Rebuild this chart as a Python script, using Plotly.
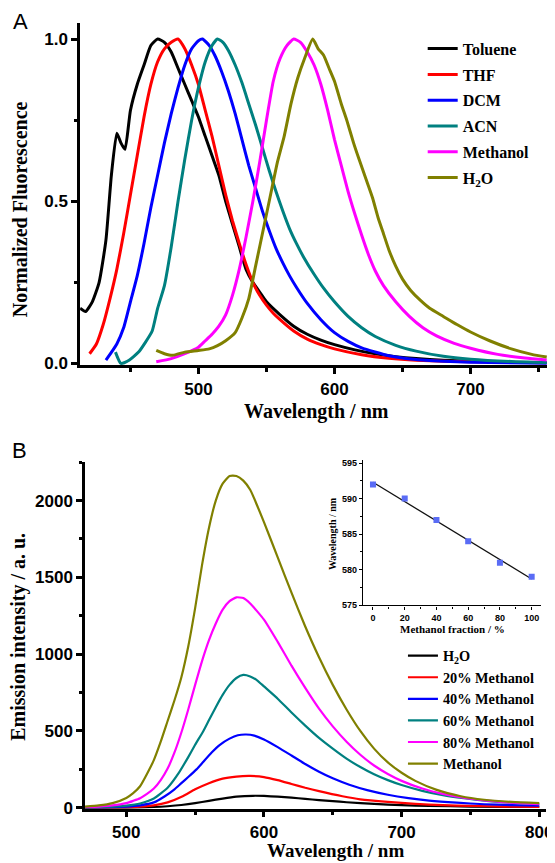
import plotly.graph_objects as go

W, H = 555, 863
def fx(px): return px / W
def fy(py): return 1 - py / H

# ---------------- Panel A data (normalized fluorescence) ----------------
tol_x = [413, 417, 422, 427, 432, 436, 440, 443, 446, 450, 455, 460, 465, 470, 475, 480, 485, 490, 495, 500,
         505, 510, 515, 520, 525, 530, 535, 540, 545, 550, 560, 570, 580, 590, 600, 615, 630, 645, 660, 680, 700]
tol_y = [0.17, 0.16, 0.19, 0.25, 0.38, 0.58, 0.71, 0.68, 0.66, 0.78, 0.86, 0.92, 0.98, 1.0, 0.99, 0.96, 0.91, 0.86, 0.81, 0.76,
         0.70, 0.64, 0.58, 0.50, 0.43, 0.36, 0.29, 0.25, 0.22, 0.19, 0.15, 0.115, 0.09, 0.072, 0.058, 0.042, 0.03, 0.021, 0.015, 0.01, 0.007]

thf_x = [420, 425, 430, 435, 440, 445, 450, 455, 460, 465, 470, 475, 480, 485, 490, 495, 500, 505, 510, 515, 520,
         525, 530, 535, 540, 545, 550, 555, 560, 570, 580, 590, 600, 620, 640, 660, 700, 756]
thf_y = [0.03, 0.06, 0.12, 0.2, 0.29, 0.4, 0.52, 0.64, 0.76, 0.86, 0.93, 0.97, 0.99, 1.0, 0.97, 0.92, 0.86, 0.78, 0.70, 0.61, 0.52,
         0.44, 0.37, 0.305, 0.25, 0.21, 0.18, 0.155, 0.135, 0.1, 0.075, 0.058, 0.045, 0.027, 0.016, 0.01, 0.005, 0.002]

dcm_x = [432, 440, 445, 450, 455, 460, 465, 470, 475, 480, 485, 490, 495, 500, 503, 508, 512, 517, 522, 527, 532,
         537, 542, 547, 552, 557, 562, 567, 572, 580, 590, 600, 610, 620, 640, 660, 680, 700, 756]
dcm_y = [0.01, 0.06, 0.11, 0.19, 0.27, 0.37, 0.48, 0.58, 0.68, 0.77, 0.85, 0.92, 0.97, 0.995, 1.0, 0.98, 0.95, 0.9, 0.84, 0.77, 0.69,
         0.61, 0.54, 0.47, 0.41, 0.355, 0.31, 0.27, 0.235, 0.185, 0.135, 0.095, 0.068, 0.048, 0.024, 0.012, 0.007, 0.004, 0.001]

acn_x = [439, 443, 449, 456, 461, 466, 470, 475, 480, 485, 490, 495, 500, 505, 510, 514, 518, 522, 527, 532, 537,
         542, 547, 552, 557, 562, 567, 572, 577, 585, 592, 600, 610, 620, 630, 645, 660, 680, 700, 730, 756]
acn_y = [0.035, 0.0, 0.01, 0.035, 0.065, 0.1, 0.17, 0.24, 0.36, 0.5, 0.63, 0.75, 0.85, 0.93, 0.98, 1.0, 0.99, 0.965, 0.92, 0.865, 0.8,
         0.735, 0.665, 0.595, 0.53, 0.47, 0.415, 0.37, 0.33, 0.275, 0.232, 0.19, 0.145, 0.11, 0.083, 0.056, 0.038, 0.022, 0.013, 0.006, 0.003]

meoh_x = [469, 480, 490, 500, 505, 510, 515, 520, 525, 530, 535, 540, 545, 550, 555, 560, 565, 570, 575, 580, 585,
          590, 595, 600, 605, 610, 615, 620, 625, 630, 636, 645, 655, 665, 675, 688, 700, 720, 740, 756]
meoh_y = [0.005, 0.015, 0.03, 0.05, 0.07, 0.09, 0.115, 0.15, 0.21, 0.29, 0.39, 0.5, 0.62, 0.75, 0.87, 0.94, 0.98, 1.0, 0.99, 0.96, 0.92,
          0.86, 0.78, 0.69, 0.61, 0.53, 0.46, 0.395, 0.335, 0.285, 0.24, 0.19, 0.145, 0.11, 0.085, 0.062, 0.047, 0.028, 0.017, 0.011]

h2o_x = [469, 475, 481, 490, 500, 508, 514, 520, 527, 532, 537, 542, 549, 554, 558, 563, 568, 573, 578, 584, 588,
         592, 596, 600, 605, 609, 614, 618, 623, 628, 632, 636, 640, 645, 650, 656, 663, 670, 680, 690, 700, 714, 730, 745, 756]
h2o_y = [0.04, 0.03, 0.025, 0.035, 0.04, 0.045, 0.055, 0.07, 0.095, 0.14, 0.2, 0.3, 0.44, 0.54, 0.62, 0.7, 0.8, 0.88, 0.94, 1.0, 0.97,
         0.95, 0.91, 0.87, 0.8, 0.75, 0.68, 0.63, 0.57, 0.51, 0.45, 0.40, 0.35, 0.30, 0.26, 0.225, 0.195, 0.17, 0.145, 0.12, 0.097, 0.07, 0.045, 0.028, 0.02]

# ---------------- Panel B data (emission intensity) ----------------
b_h2o_x = [470, 500, 520, 530, 540, 550, 560, 570, 580, 592, 600, 610, 620, 630, 640, 650, 660, 680, 700, 720, 750, 800]
b_h2o_y = [0, 1, 5, 10, 18, 30, 45, 60, 72, 78, 77, 72, 66, 58, 50, 43, 36, 25, 17, 12, 8, 5]

b_20_x = [470, 490, 500, 510, 520, 530, 541, 550, 560, 570, 580, 590, 600, 610, 620, 630, 640, 657, 670, 690, 710, 730, 750, 775, 800]
b_20_y = [1, 2, 4, 8, 16, 35, 75, 120, 160, 190, 203, 207, 200, 180, 155, 130, 108, 75, 55, 38, 25, 17, 12, 8, 6]

b_40_x = [470, 490, 500, 510, 520, 528, 535, 540, 545, 551, 556, 562, 568, 575, 581, 587, 593, 600, 610, 620, 629,
          640, 650, 662, 675, 690, 705, 720, 740, 760, 780, 800]
b_40_y = [2, 4, 8, 16, 35, 75, 120, 160, 200, 250, 300, 360, 410, 450, 472, 477, 470, 445, 395, 340, 290,
          235, 192, 150, 115, 85, 63, 47, 33, 23, 17, 13]

b_60_x = [470, 490, 500, 510, 520, 530, 538, 545, 550, 556, 560, 565, 570, 575, 580, 585, 590, 595, 600, 610, 620,
          630, 640, 650, 660, 670, 680, 690, 700, 715, 730, 745, 760, 780, 800]
b_60_y = [3, 8, 14, 28, 60, 130, 225, 330, 410, 500, 570, 655, 735, 800, 845, 865, 855, 830, 790, 710, 620,
          535, 455, 385, 320, 265, 218, 180, 148, 110, 82, 62, 46, 33, 24]

b_80_x = [470, 480, 490, 500, 505, 510, 515, 520, 525, 530, 535, 540, 545, 550, 555, 560, 565, 570, 575, 580, 585,
          590, 600, 610, 620, 630, 640, 650, 660, 670, 680, 690, 700, 715, 730, 745, 760, 780, 800]
b_80_y = [5, 8, 15, 30, 45, 62, 90, 125, 180, 255, 360, 490, 640, 800, 955, 1090, 1200, 1290, 1345, 1370, 1365,
          1330, 1225, 1080, 925, 780, 645, 530, 430, 345, 275, 220, 175, 125, 90, 65, 48, 33, 23]

b_me_x = [470, 480, 490, 500, 505, 510, 515, 520, 525, 530, 535, 540, 545, 550, 555, 560, 565, 570, 575, 580, 585,
          590, 600, 610, 620, 630, 640, 650, 660, 670, 680, 690, 700, 710, 725, 743, 760, 780, 800]
b_me_y = [8, 15, 30, 64, 95, 140, 220, 310, 430, 565, 700, 850, 1050, 1300, 1580, 1820, 2000, 2110, 2160, 2160, 2130,
          2070, 1860, 1630, 1400, 1180, 980, 800, 640, 500, 385, 295, 228, 175, 118, 75, 52, 38, 30]

# ---------------- Inset data ----------------
frac = [0, 20, 40, 60, 80, 100]
peak_wl = [592, 590, 587, 584, 581, 579]
fit_x = [0, 100]
fit_y = [592.3, 578.7]

namesA = ["Toluene", "THF", "DCM", "ACN", "Methanol", "H<sub>2</sub>O"]
colorsA = ["#000000", "#ff0000", "#0000ff", "#008080", "#ff00ff", "#808000"]
seriesA = [(tol_x, tol_y), (thf_x, thf_y), (dcm_x, dcm_y), (acn_x, acn_y), (meoh_x, meoh_y), (h2o_x, h2o_y)]

namesB = ["H<sub>2</sub>O", "20% Methanol", "40% Methanol", "60% Methanol", "80% Methanol", "Methanol"]
colorsB = ["#000000", "#ff0000", "#0000ff", "#008080", "#ff00ff", "#808000"]
seriesB = [(b_h2o_x, b_h2o_y), (b_20_x, b_20_y), (b_40_x, b_40_y), (b_60_x, b_60_y), (b_80_x, b_80_y), (b_me_x, b_me_y)]

SANS = "Liberation Sans, Arial, sans-serif"
SERIF = "Liberation Serif, Times New Roman, serif"

fig = go.Figure()
for i, ((xs, ys), n, c) in enumerate(zip(seriesA, namesA, colorsA)):
    fig.add_trace(go.Scatter(x=xs, y=ys, name=n, mode="lines", line=dict(color=c, width=3, shape="spline", smoothing=0.5),
                             xaxis="x", yaxis="y", legend="legend", legendgroup="a%d" % i))
for i, ((xs, ys), n, c) in enumerate(zip(seriesB, namesB, colorsB)):
    fig.add_trace(go.Scatter(x=xs, y=ys, name=n, mode="lines", line=dict(color=c, width=2.2, shape="spline", smoothing=0.5),
                             xaxis="x2", yaxis="y2", legend="legend2"))
fig.add_trace(go.Scatter(x=fit_x, y=fit_y, mode="lines", line=dict(color="#111111", width=1.3),
                         xaxis="x3", yaxis="y3", showlegend=False))
fig.add_trace(go.Scatter(x=frac, y=peak_wl, mode="markers", marker=dict(symbol="square", size=6, color="#5a6cf5"),
                         xaxis="x3", yaxis="y3", showlegend=False))

def ax(domain, rng, dtick, tick0, minor, fsize, lw=2.5, tl=6, anchor=None, fmt=None):
    d = dict(domain=domain, range=rng, dtick=dtick, tick0=tick0, showline=True, linecolor="black", linewidth=lw,
             ticks="outside", ticklen=tl, tickwidth=lw, tickcolor="black", showgrid=False, zeroline=False,
             tickfont=dict(family=SANS, size=fsize, color="black", weight=700),
             minor=dict(dtick=minor, ticks="outside", ticklen=tl * 0.6, tickwidth=lw, tickcolor="black", showgrid=False),
             anchor=anchor)
    if fmt:
        d["tickformat"] = fmt
    return d

fig.update_layout(
    width=W, height=H, margin=dict(l=0, r=0, t=0, b=0),
    paper_bgcolor="white", plot_bgcolor="rgba(0,0,0,0)",
    xaxis=ax([fx(73), fx(547)], [413, 757], 100, 500, 50, 17, anchor="y"),
    yaxis=ax([fy(360), fy(13)], [-0.006, 1.05], 0.5, 0, 0.25, 17, anchor="x", fmt=".1f"),
    xaxis2=ax([fx(78), fx(545)], [470, 805], 100, 500, 50, 17, anchor="y2"),
    yaxis2=ax([fy(809), fy(458)], [-6, 2250], 500, 0, 250, 17, anchor="x2"),
    xaxis3=ax([fx(360), fx(540)], [-6, 106], 20, 0, 10, 9, lw=1.4, tl=3.5, anchor="y3"),
    yaxis3=ax([fy(603), fy(456)], [575, 595.4], 5, 575, 2.5, 9, lw=1.4, tl=3.5, anchor="x3"),
    legend=dict(x=fx(420), y=fy(22), xanchor="left", yanchor="top", bgcolor="rgba(0,0,0,0)",
                font=dict(family=SERIF, size=16, color="black", weight=700), tracegroupgap=2, traceorder="grouped"),
    legend2=dict(x=fx(400), y=fy(638), xanchor="left", yanchor="top", bgcolor="rgba(0,0,0,0)",
                 font=dict(family=SERIF, size=14.3, color="black", weight=700), tracegroupgap=0),
    showlegend=True,
)

ann = [
    dict(text="A", x=fx(3), y=fy(12), xanchor="left", yanchor="middle", font=dict(family=SANS, size=22, color="black")),
    dict(text="B", x=fx(2), y=fy(446), xanchor="left", yanchor="middle", font=dict(family=SANS, size=22, color="black")),
    dict(text="Normalized Fluorescence", x=fx(13), y=fy(202), textangle=-90, xanchor="center", yanchor="middle",
         font=dict(family=SERIF, size=20, color="black", weight=700)),
    dict(text="Wavelength / nm", x=fx(312), y=fy(407), xanchor="center", yanchor="middle",
         font=dict(family=SERIF, size=20, color="black", weight=700)),
    dict(text="Emission intensity / a. u.", x=fx(11), y=fy(635), textangle=-90, xanchor="center", yanchor="middle",
         font=dict(family=SERIF, size=20, color="black", weight=700)),
    dict(text="Wavelength / nm", x=fx(332), y=fy(851), xanchor="center", yanchor="middle",
         font=dict(family=SERIF, size=19, color="black", weight=700)),
    dict(text="Wavelength / nm", x=fx(328), y=fy(530), textangle=-90, xanchor="center", yanchor="middle",
         font=dict(family=SERIF, size=10, color="black", weight=700)),
    dict(text="Methanol fraction / %", x=fx(450), y=fy(627), xanchor="center", yanchor="middle",
         font=dict(family=SERIF, size=11, color="black", weight=700)),
]
for a in ann:
    a.update(xref="paper", yref="paper", showarrow=False)
fig.update_layout(annotations=ann)

fig.write_html("out.html")
